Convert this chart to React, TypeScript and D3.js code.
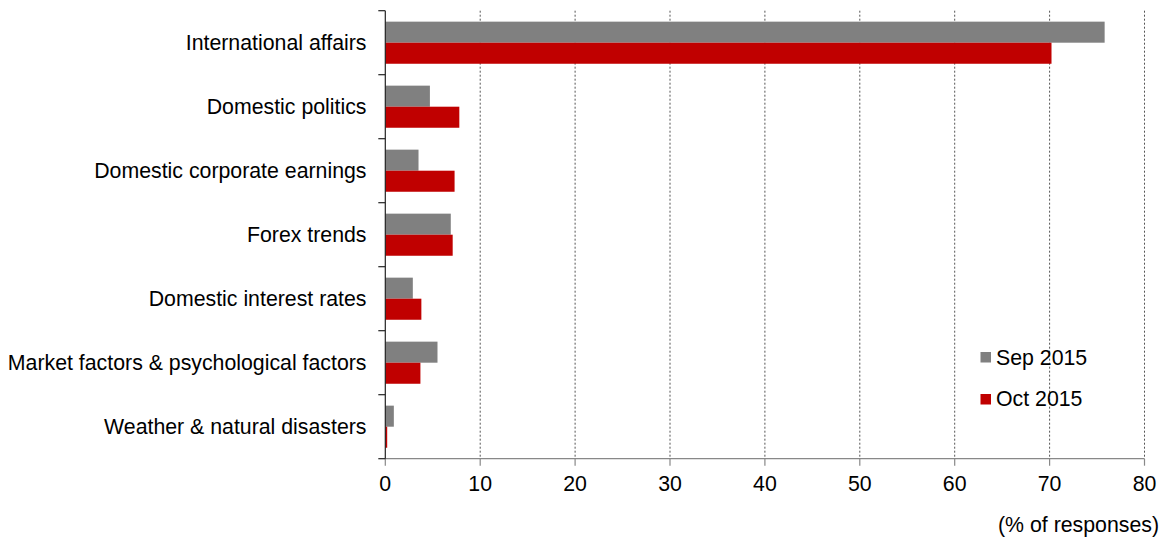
import React from "react";
import * as d3 from "d3";

const categories = [
  "International affairs",
  "Domestic politics",
  "Domestic corporate earnings",
  "Forex trends",
  "Domestic interest rates",
  "Market factors & psychological factors",
  "Weather & natural disasters",
];
const sep2015 = [75.8, 4.7, 3.5, 6.9, 2.9, 5.5, 0.9];
const oct2015 = [70.2, 7.8, 7.3, 7.1, 3.8, 3.7, 0.2];
const seriesNames = ["Sep 2015", "Oct 2015"];
const seriesColors = ["#808080", "#C00000"];
const xTicks = [0, 10, 20, 30, 40, 50, 60, 70, 80];

export default function App() {
  const W = 1160, H = 542;
  const left = 385.3, right = 1144.5, top = 10.7, bottom = 458.7;
  const x = d3.scaleLinear().domain([0, 80]).range([left, right]);
  const y = d3.scaleBand<string>().domain(categories).range([top, bottom]).paddingInner(0).paddingOuter(0);
  const inner = d3.scaleBand<number>().domain([0, 1]).range([0, y.bandwidth()]).paddingOuter(0.52).paddingInner(0);
  const series = [sep2015, oct2015];
  const font = "'Liberation Sans', Arial, sans-serif";
  const fs = 21.3;
  const boundaries = categories.map((c) => y(c)!).concat([bottom]);

  return (
    <svg width={W} height={H} style={{ position: "absolute", left: 0, top: 0 }} fontFamily={font}>
      {xTicks.filter((t) => t > 0).map((t) => (
        <line key={"g" + t} x1={x(t)} x2={x(t)} y1={top} y2={bottom} stroke="#555" strokeWidth={1} strokeDasharray="2,2" />
      ))}
      {categories.map((c, i) =>
        series.map((s, j) => (
          <rect key={c + j} x={x(0)} y={y(c)! + inner(j)!} width={x(s[i]) - x(0)} height={inner.bandwidth()} fill={seriesColors[j]} />
        ))
      )}
      <line x1={left} x2={right} y1={bottom} y2={bottom} stroke="#888" strokeWidth={1.2} />
      {xTicks.map((t) => (
        <g key={"t" + t}>
          <line x1={x(t)} x2={x(t)} y1={bottom} y2={bottom + 7} stroke="#888" strokeWidth={1.2} />
          <text x={x(t)} y={490.5} textAnchor="middle" fontSize={fs} fill="#000">{t}</text>
        </g>
      ))}
      <line x1={left} x2={left} y1={top} y2={bottom} stroke="#222" strokeWidth={1.2} />
      {boundaries.map((b, i) => (
        <line key={"lt" + i} x1={left - 7} x2={left} y1={b} y2={b} stroke="#222" strokeWidth={1.2} />
      ))}
      {categories.map((c) => (
        <text key={"l" + c} x={366.5} y={y(c)! + y.bandwidth() / 2 + 7.5} textAnchor="end" fontSize={fs} fill="#000">{c}</text>
      ))}
      {seriesNames.map((n, j) => (
        <g key={n}>
          <rect x={980.5} y={352 + j * 42} width={10.5} height={10.5} fill={seriesColors[j]} />
          <text x={996} y={364.5 + j * 41.5} fontSize={fs} fill="#000">{n}</text>
        </g>
      ))}
      <text x={1159} y={532} textAnchor="end" fontSize={fs} fill="#000">(% of responses)</text>
    </svg>
  );
}
